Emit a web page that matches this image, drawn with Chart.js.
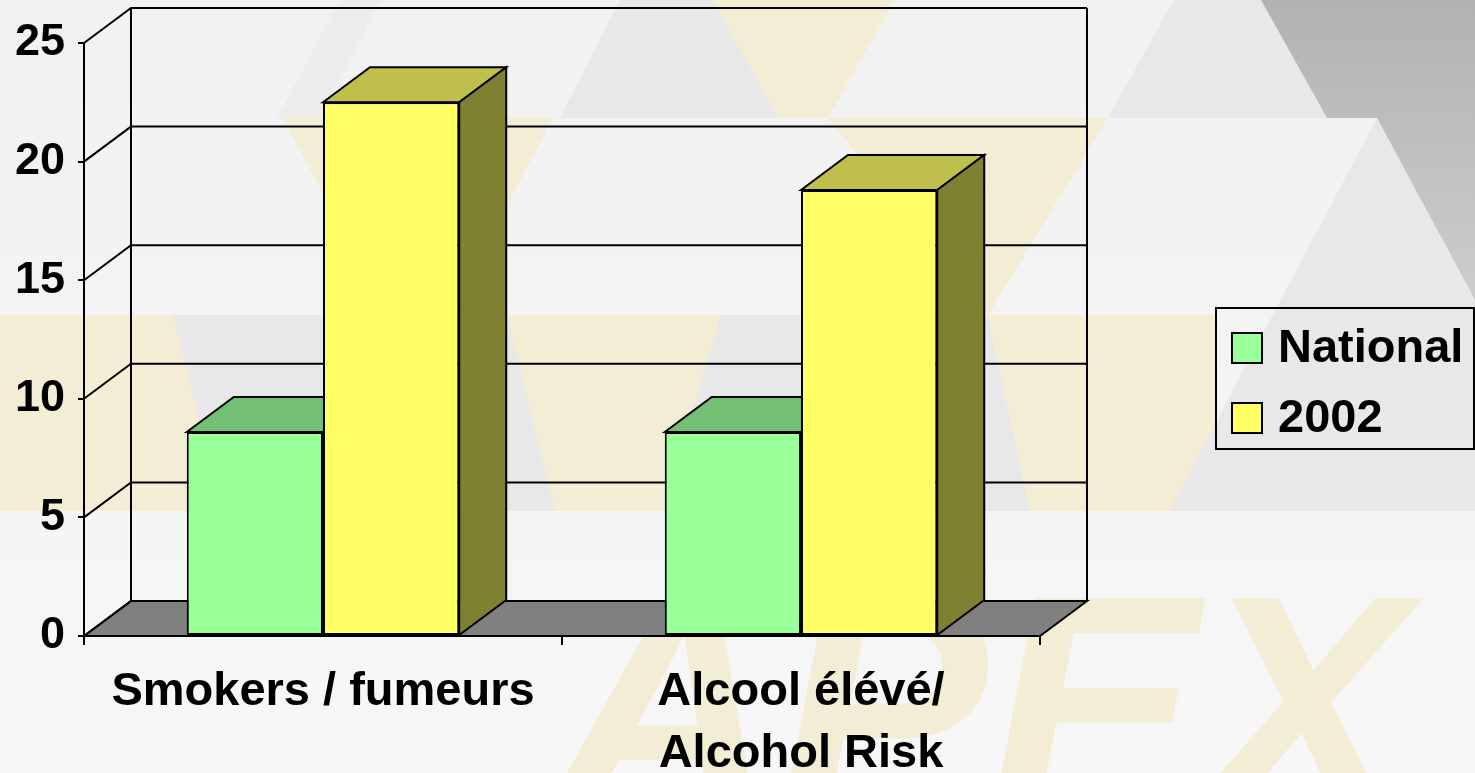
<!DOCTYPE html>
<html>
<head>
<meta charset="utf-8">
<script src="https://cdn.jsdelivr.net/npm/chart.js@4.4.0/dist/chart.umd.min.js"></script>
<style>
  body { margin: 0; background: #f3f3f3; }
  canvas { display: block; }
</style>
</head>
<body>
<canvas id="apexChart" width="1475" height="773"></canvas>
<script>
const categories = ["Smokers / fumeurs", ["Alcool élévé/", "Alcohol Risk"]]
const seriesNames = ["National", "2002"]
const nationalValues = [8.6, 8.6]
const year2002Values = [22.5, 18.8]
const yTicks = [0, 5, 10, 15, 20, 25]

const FONT = "'Liberation Sans', Arial, sans-serif"
// depth of the fake 3d box
const DX = 47, DY = 35

// slide template behind the chart (triangles + APEX watermark)
const backdrop = {
    id: "backdrop",
    beforeDraw(chart) {
        const c = chart.ctx
        const poly = (pts, fill) => {
            c.beginPath()
            c.moveTo(pts[0][0], pts[0][1])
            for (const p of pts.slice(1)) c.lineTo(p[0], p[1])
            c.closePath()
            c.fillStyle = fill
            c.fill()
        }
        c.save()
        let g = c.createLinearGradient(0, 0, 0, 773)
        g.addColorStop(0, "#f1f1f1")
        g.addColorStop(1, "#f7f7f7")
        c.fillStyle = g
        c.fillRect(0, 0, 1475, 773)

        const cream = "#f3edd6", gray = "#e8e8e8"
        // band 315-511
        poly([[0, 315], [1215, 315], [1215, 511], [0, 511]], cream)
        poly([[173, 315], [507, 315], [555, 511], [222, 511]], gray)
        poly([[721, 315], [987, 315], [1030, 511], [663, 511]], gray)
        poly([[1169, 511], [1377, 118], [1475, 300], [1475, 511]], gray)
        // band 118-315
        poly([[283, 118], [553, 118], [450, 315], [386, 315]], cream)
        poly([[828, 118], [1108, 118], [988, 315]], cream)
        poly([[560, 118], [620, 0], [712, 0], [779, 118]], gray)
        poly([[277, 118], [340, 0], [380, 0], [320, 118]], "#ececec")
        // top row
        poly([[712, 0], [895, 0], [828, 118], [779, 118]], cream)
        poly([[1108, 118], [1174, 0], [1261, 0], [1327, 118]], gray)
        g = c.createLinearGradient(0, 0, 0, 300)
        g.addColorStop(0, "#b2b2b2")
        g.addColorStop(1, "#cdcdcd")
        poly([[1261, 0], [1475, 0], [1475, 300], [1377, 118], [1327, 118]], g)

        // watermark
        c.fillStyle = cream
        c.font = "italic bold 315px " + FONT
        c.textBaseline = "alphabetic"
        c.fillText("APEX", 550, 815)
        c.restore()
    }
}

// back walls, floor, tops and sides of the bars
const box3d = {
    id: "box3d",
    beforeDatasetsDraw(chart) {
        const c = chart.ctx
        const x = chart.scales.x, y = chart.scales.y
        const L = x.left, R = x.right
        const y0 = y.getPixelForValue(0), yTop = y.getPixelForValue(25)
        c.save()
        c.strokeStyle = "#000"
        c.lineWidth = 2

        // floor
        c.beginPath()
        c.moveTo(L, y0)
        c.lineTo(R, y0)
        c.lineTo(R + DX, y0 - DY)
        c.lineTo(L + DX, y0 - DY)
        c.closePath()
        c.fillStyle = "#808080"
        c.fill()
        c.stroke()

        // gridlines on the back wall + diagonals to the front axis
        c.beginPath()
        for (const v of yTicks) {
            const py = y.getPixelForValue(v)
            c.moveTo(L, py)
            c.lineTo(L + DX, py - DY)
            if (v > 0) c.lineTo(R + DX, py - DY)
        }
        c.moveTo(L + DX, yTop - DY)
        c.lineTo(L + DX, y0 - DY)
        c.moveTo(R + DX, yTop - DY)
        c.lineTo(R + DX, y0 - DY)
        c.stroke()

        const tops = ["#73bf73", "#bfbf4d"]
        const sides = ["#4d804d", "#808033"]
        chart.data.datasets.forEach((ds, i) => {
            chart.getDatasetMeta(i).data.forEach(bar => {
                const l = bar.x - bar.width / 2, r = bar.x + bar.width / 2
                const t = bar.y, b = bar.base
                c.lineWidth = 2
                // top
                c.beginPath()
                c.moveTo(l, t)
                c.lineTo(l + DX, t - DY)
                c.lineTo(r + DX, t - DY)
                c.lineTo(r, t)
                c.closePath()
                c.fillStyle = tops[i]
                c.fill()
                c.stroke()
                // side
                c.beginPath()
                c.moveTo(r, t)
                c.lineTo(r + DX, t - DY)
                c.lineTo(r + DX, b - DY)
                c.lineTo(r, b)
                c.closePath()
                c.fillStyle = sides[i]
                c.fill()
                c.stroke()
            })
        })
        c.restore()
    }
}

const legendBox = {
    id: "legendBox",
    afterDraw(chart) {
        const c = chart.ctx
        c.save()
        c.strokeStyle = "#000"
        c.lineWidth = 2
        c.strokeRect(1216, 308, 258, 141)
        c.font = "bold 47px " + FONT
        c.textBaseline = "middle"
        c.fillStyle = "#000"
        chart.data.datasets.forEach((ds, i) => {
            const cy = 348 + i * 70
            c.fillStyle = ds.backgroundColor
            c.fillRect(1232, cy - 15, 30, 30)
            c.strokeRect(1232, cy - 15, 30, 30)
            c.fillStyle = "#000"
            c.fillText(ds.label, 1278, cy + 1)
        })
        c.restore()
    }
}

const ctx = document.getElementById("apexChart")

new Chart(ctx, {
    type: "bar",
    data: {
        labels: categories,
        datasets: [{
            label: seriesNames[0],
            data: nationalValues,
            backgroundColor: "#99ff99",
            borderColor: "#000",
            borderWidth: 2,
            borderSkipped: false
        }, {
            label: seriesNames[1],
            data: year2002Values,
            backgroundColor: "#ffff66",
            borderColor: "#000",
            borderWidth: 2,
            borderSkipped: false
        }]
    },
    options: {
        responsive: false,
        animation: false,
        events: [],
        categoryPercentage: 0.57,
        barPercentage: 1,
        layout: { padding: { top: 43, right: 435, left: 0, bottom: 0 } },
        plugins: {
            legend: { display: false },
            tooltip: { enabled: false }
        },
        scales: {
            x: {
                afterFit(s) { s.height = 137 },
                grid: { offset: true, drawOnChartArea: false, color: "#000", lineWidth: 2, tickLength: 9 },
                border: { display: true, color: "#000", width: 2 },
                ticks: {
                    color: "#000",
                    maxRotation: 0,
                    autoSkip: false,
                    padding: 16,
                    font: { family: FONT, size: 47, weight: "bold", lineHeight: 1.32 }
                }
            },
            y: {
                min: 0,
                max: 25,
                afterFit(s) { s.width = 84 },
                afterBuildTicks(s) { s.ticks = yTicks.map(v => ({ value: v })) },
                grid: { drawOnChartArea: false, color: "#000", lineWidth: 2, tickLength: 6 },
                border: { display: true, color: "#000", width: 2 },
                ticks: {
                    color: "#000",
                    padding: 13,
                    font: { family: FONT, size: 45, weight: "bold" }
                }
            }
        }
    },
    plugins: [backdrop, box3d, legendBox]
})
</script>
</body>
</html>
